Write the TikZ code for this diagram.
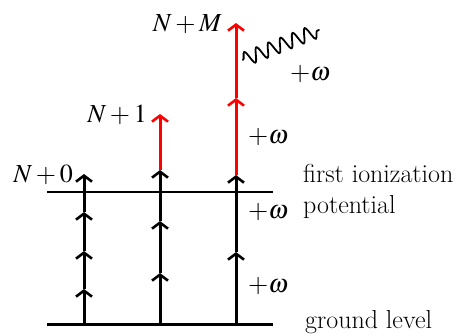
\documentclass[tikz,border=0pt]{standalone}
\usepackage{mathptmx}
\usetikzlibrary{arrows.meta,decorations.pathmorphing}
\begin{document}
\begin{tikzpicture}[x=1pt,y=-1pt,
  lbl/.style={inner sep=0pt,font=\fontsize{26}{30}\selectfont},
  blk/.style={line width=3pt,black,-{Straight Barb[length=6pt,width=16pt,line width=2.6pt]}},
  redarr/.style={blk,red},
  level/.style={line width=3pt},
  thinlevel/.style={line width=1.2pt}]
\useasboundingbox (0,0) rectangle (458,335);
% levels
\coordinate (gl) at (47,324); \coordinate (gr) at (273,324);
\coordinate (il) at (47,192); \coordinate (ir) at (273,192);
\draw[level] (gl) -- (gr);
\draw[thinlevel] (il) -- (ir);
% column 1
\foreach \n/\y in {0/324,1/289,2/251,3/212,4/174} {\coordinate (a\n) at (84,\y);}
% column 2
\foreach \n/\y in {0/324,1/273,2/221,3/170,4/114} {\coordinate (b\n) at (160,\y);}
% column 3
\foreach \n/\y in {0/324,1/252,2/175,3/98,4/23} {\coordinate (c\n) at (236,\y);}
% red parts first
\draw[redarr] (b3) -- (b4);
\draw[redarr] (c2) -- (c3);
\draw[redarr] (c3) -- (c4);
% black parts
\draw[blk] (a0) -- (a1);
\draw[blk] (a1) -- (a2);
\draw[blk] (a2) -- (a3);
\draw[blk] (a3) -- (a4);
\draw[blk] (b0) -- (b1);
\draw[blk] (b1) -- (b2);
\draw[blk] (b2) -- (b3);
\draw[blk] (c0) -- (c1);
\draw[blk] (c1) -- (c2);
% photon
\coordinate (w0) at (243,60); \coordinate (w1) at (319,30);
\draw[line width=1.8pt,line cap=round,decorate,decoration={snake,segment length=13pt,amplitude=7pt}] (w0) -- (w1);
% labels
\node[lbl,anchor=base east] (lNM) at (222,31) {$N+M$};
\node[lbl,anchor=base east] (lN1) at (147,122) {$N+1$};
\node[lbl,anchor=base east] (lN0) at (73,182) {$N+0$};
\node[lbl,anchor=base west] (w1l) at (290,80) {$+\omega$};
\node[lbl,anchor=base west] (w2l) at (248,143) {$+\omega$};
\node[lbl,anchor=base west] (w3l) at (248,218) {$+\omega$};
\node[lbl,anchor=base west] (w4l) at (248,292) {$+\omega$};
\node[lbl,anchor=base west] (fi) at (303,182) {first ionization};
\node[lbl,anchor=base west] (pot) at (303,213) {potential};
\node[lbl,anchor=base west] (gnd) at (305,328) {ground level};
\end{tikzpicture}
\end{document}
